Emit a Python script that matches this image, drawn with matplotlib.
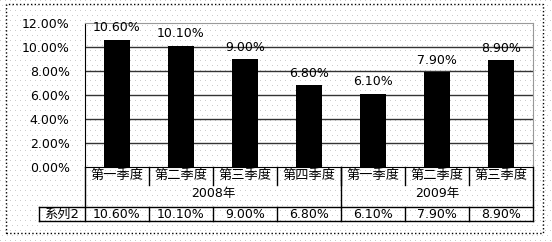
import matplotlib
matplotlib.use("Agg")
import matplotlib.pyplot as plt
from matplotlib.patches import Rectangle
from matplotlib.lines import Line2D
from matplotlib.transforms import blended_transform_factory
import numpy as np

plt.rcParams['font.family'] = ['DejaVu Sans', 'Noto Sans CJK SC']
plt.rcParams['font.size'] = 9

# data
quarters = ["第一季度", "第二季度", "第三季度", "第四季度", "第一季度", "第二季度", "第三季度"]
years = ["2008年", "2009年"]
year_span = [(0, 3), (4, 6)]
series_name = "系列2"
values = [10.6, 10.1, 9.0, 6.8, 6.1, 7.9, 8.9]
yticks = [0, 2, 4, 6, 8, 10, 12]

W, H = 552, 242
fig = plt.figure(figsize=(W / 100, H / 100), dpi=100)

# dotted background pattern
bg = np.ones((H, W, 3))
for r in range(0, H, 5):
    off = 0 if (r // 5) % 2 == 0 else 2
    bg[r, off::5] = 0.8
fig.figimage(bg, 0, 0, zorder=-10)


def fy(y):  # pixel from top -> figure fraction
    return 1 - y / H


def fx(x):
    return x / W


L, R, T, B = 85, 533, 23, 167
ax = fig.add_axes([fx(L), fy(B), (R - L) / W, (B - T) / H])
ax.patch.set_alpha(0)

x = np.arange(len(values))
ax.bar(x, values, width=0.42, color='black', zorder=3)
ax.set_xlim(-0.5, len(values) - 0.5)
ax.set_ylim(0, 12)
ax.set_yticks(yticks)
ax.set_yticklabels([f"{v:.2f}%" for v in yticks])
ax.tick_params(axis='y', length=0, pad=11)
ax.set_xticks([])
for v in yticks[1:-1]:
    ax.axhline(v, color='#333333', lw=1, zorder=1)
for s in ['left', 'bottom']:
    ax.spines[s].set_color('black')
for s in ['top', 'right']:
    ax.spines[s].set_color('#999999')

for xi, v in zip(x, values):
    ax.annotate(f"{v:.2f}%", (xi, v), xytext=(0, 8.5), textcoords='offset points',
                ha='center', va='center', zorder=4)

# category / year table below the axis
tr = blended_transform_factory(ax.transData, fig.transFigure)


def vline(xd, y0, y1, lw=1):
    fig.add_artist(Line2D([xd, xd], [fy(y0), fy(y1)], transform=tr, color='black', lw=lw))


for i in range(1, len(values)):
    vline(i - 0.5, B, 185)
vline(-0.5, B, 221)
vline(len(values) - 0.5, B, 221)
vline(3.5, B, 207)

for xi, q in zip(x, quarters):
    ax.text(xi, fy(176), q, transform=tr, ha='center', va='center', fontsize=9.5)
for (a, b), yr in zip(year_span, years):
    ax.text((a + b) / 2, fy(194), yr, transform=tr, ha='center', va='center')

# data table row
for yy in (207, 221):
    fig.add_artist(Line2D([fx(39), fx(R)], [fy(yy), fy(yy)], transform=fig.transFigure, color='black', lw=1))
fig.add_artist(Line2D([fx(39), fx(39)], [fy(207), fy(221)], transform=fig.transFigure, color='black', lw=1))
for i in range(1, len(values)):
    vline(i - 0.5, 207, 221)
fig.text(fx(62), fy(214), series_name, ha='center', va='center', fontsize=9.5)
for xi, v in zip(x, values):
    ax.text(xi, fy(214), f"{v:.2f}%", transform=tr, ha='center', va='center')

# outer dotted border
fig.add_artist(Rectangle((fx(6), fy(233)), (543 - 6) / W, (233 - 4) / H,
                         transform=fig.transFigure, fill=False, ec='black', lw=1, ls=':'))

fig.savefig("out.png", dpi=100)
